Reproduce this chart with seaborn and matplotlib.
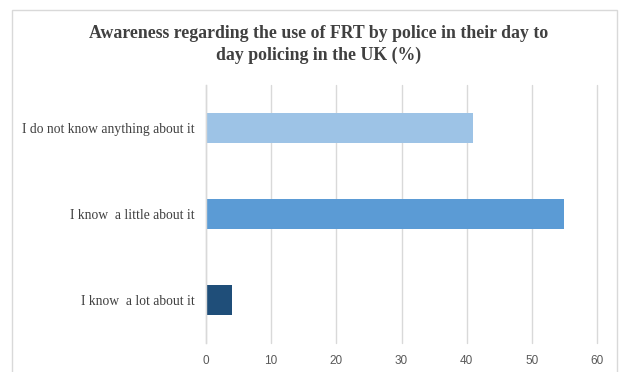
import matplotlib
matplotlib.use("Agg")
import matplotlib.pyplot as plt
import seaborn as sns
import pandas as pd
from matplotlib.patches import Rectangle

categories = ["I do not know anything about it", "I know  a little about it", "I know  a lot about it"]
values = [41, 55, 4]
colors = ["#9DC3E6", "#5B9BD5", "#1F4E79"]
xticks = [0, 10, 20, 30, 40, 50, 60]

sns.set_theme(style="white")
plt.rcParams["font.family"] = ["Liberation Serif", "DejaVu Serif"]

fig = plt.figure(figsize=(6.22, 3.72), dpi=100)
ax = fig.add_axes([206/622, 1-343/372, (597-206)/622, (343-85)/372])

df = pd.DataFrame({"cat": categories, "val": values})
sns.barplot(data=df, x="val", y="cat", hue="cat", palette=colors, legend=False,
            orient="h", width=0.35, ax=ax, edgecolor="none", saturation=1)

ax.set_xlim(0, 60)
ax.set_xticks(xticks)
ax.set_xticklabels([str(t) for t in xticks], fontfamily="Liberation Sans", fontsize=8.5, color="#595959")
ax.set_ylabel("")
ax.set_xlabel("")
ax.tick_params(axis="y", labelsize=9.8, colors="#404040", length=0, pad=8)
ax.tick_params(axis="x", length=0, pad=9)
ax.grid(axis="x", color="#d9d9d9", linewidth=1)
for gl in ax.get_xgridlines():
    gl.set_clip_on(False)
ax.set_axisbelow(True)
for s in ["top", "right", "bottom"]:
    ax.spines[s].set_visible(False)
ax.spines["left"].set_color("#d9d9d9")
ax.spines["left"].set_linewidth(1)

fig.text(319/622, 1-44.5/372, "Awareness regarding the use of FRT by police in their day to\nday policing in the UK (%)",
         ha="center", va="center", fontsize=12.8, fontweight="bold", color="#404040",
         linespacing=1.4, fontfamily="Liberation Serif")

fig.patches.append(Rectangle((12/622, -0.05), (617-12)/622, 1.05 - 10/372, transform=fig.transFigure,
                             fill=False, edgecolor="#d9d9d9", linewidth=1))

fig.savefig("out.png", dpi=100)
